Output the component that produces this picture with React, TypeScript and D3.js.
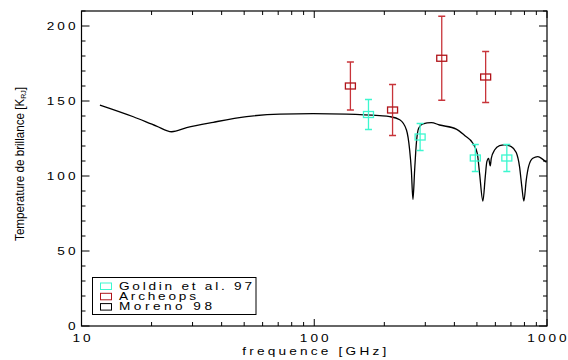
import React from 'react';
import * as d3 from 'd3';

// Moreno 98 model curve (GHz, K)
const modelFreq = [12.0, 16.7, 21.0, 24.4, 28.3, 36.8, 51.2, 71.1, 98.8, 137.5, 191, 211, 233, 249, 257, 261.3, 265.5, 270, 274.6, 280.9, 293, 318.5, 345.6, 407.6, 442.6, 480.2, 501.7, 513.2, 530.3, 543, 551.6, 561, 570.5, 576.2, 595.3, 625.5, 657, 702, 737.6, 762.1, 779.6, 795.3, 814.4, 833.2, 869, 913, 959.4, 995];
const modelTb = [147.3, 139.5, 133.3, 129.5, 132.2, 135.8, 139.6, 141.3, 141.6, 141.3, 140.2, 139.6, 137.5, 130.7, 117.3, 104, 84.4, 104, 121.8, 131.8, 134.7, 135.6, 134, 131.3, 127, 121.8, 115.1, 101.8, 83.3, 99.6, 109.6, 111.8, 106.7, 111.8, 117.3, 120.2, 120.7, 119.6, 115.6, 106.2, 92.9, 83.3, 97.3, 106.2, 111.8, 112.9, 111.1, 109.1];

// Archeops
const archFreq = [143, 217, 353, 545];
const archTb = [160, 144, 178.5, 166];
const archErr = [16, 17, 28, 17];

// Goldin et al. 97
const goldFreq = [171, 285, 492, 672];
const goldTb = [141, 126, 112, 112];
const goldErr = [10, 9, 9, 9];

const xTickValues = [10, 100, 1000];
const xTickLabels = ['10', '100', '1000'];
const yTickValues = [0, 50, 100, 150, 200];
const yTickLabels = ['0', '50', '100', '150', '200'];
const legendLabels = ['Goldin et al. 97', 'Archeops', 'Moreno 98'];

const W = 568;
const H = 360;
const L = 81.5, R = 547, T = 11, B = 326;
const FONT = '"Liberation Sans", Arial, Helvetica, sans-serif';
const CYAN = '#3cf7cf';
const RED_SQ = '#b0141a';
const RED_ERR = '#c8343a';

const x = d3.scaleLog().domain([10, 1000]).range([L, R]);
const y = d3.scaleLinear().domain([0, 210]).range([B, T]);

const SX = 1.3;

function SText(props: { x: number; y: number; size: number; anchor: string; children: any; width?: number; fill?: string }) {
  const n = String(props.children).length;
  const extra: any = {};
  if (props.width && n > 1) {
    extra.textLength = props.width / SX;
    extra.lengthAdjust = 'spacing';
  }
  return (
    <text
      transform={`translate(${props.x},${props.y}) scale(${SX},1)`}
      textAnchor={props.anchor as any}
      fontSize={props.size}
      fontFamily={FONT}
      fill={props.fill || '#000'}
      {...extra}
    >
      {props.children}
    </text>
  );
}

// approximate rendered width per character for the IDL-like stretched font
const charW = (s: string) => (s.length <= 1 ? undefined : s.length * 10.6 - 3);

export default function App() {
  const modelData = modelFreq.map((f, i) => [f, modelTb[i]] as [number, number]);
  const line = d3
    .line<[number, number]>()
    .x((d) => x(d[0]))
    .y((d) => y(d[1]))
    .curve(d3.curveMonotoneX);

  const xMinor: number[] = [];
  [10, 100].forEach((dec) => {
    for (let k = 2; k <= 9; k++) xMinor.push(dec * k);
  });
  const yMinor = d3.range(0, 211, 10).filter((v) => v % 50 !== 0);

  const errSeries = [
    { f: goldFreq, v: goldTb, e: goldErr, sq: CYAN, err: CYAN },
    { f: archFreq, v: archTb, e: archErr, sq: RED_SQ, err: RED_ERR },
  ];

  const legendColors = [CYAN, RED_SQ, '#000'];
  const legendWidths = [133, 77, 93];

  return (
    <svg width={W} height={H} style={{ position: 'fixed', left: 0, top: 0, background: '#fff' }}>
      <defs>
        <clipPath id="plotclip">
          <rect x={L} y={T} width={R - L} height={B - T} />
        </clipPath>
      </defs>
      <rect x={0} y={0} width={W} height={H} fill="#fff" />

      {/* data */}
      <g clipPath="url(#plotclip)">
        <path d={line(modelData) || ''} fill="none" stroke="#000" strokeWidth={1.3} />
        {errSeries.map((s, si) => (
          <g key={si}>
            {s.f.map((f, i) => {
              const cx = x(f);
              const cy = y(s.v[i]);
              const yt = y(s.v[i] + s.e[i]);
              const yb = y(s.v[i] - s.e[i]);
              return (
                <g key={i}>
                  <line x1={cx} x2={cx} y1={yt} y2={yb} stroke={s.err} strokeWidth={1.3} />
                  <line x1={cx - 3.5} x2={cx + 3.5} y1={yt} y2={yt} stroke={s.err} strokeWidth={1.3} />
                  <line x1={cx - 3.5} x2={cx + 3.5} y1={yb} y2={yb} stroke={s.err} strokeWidth={1.3} />
                  <rect x={cx - 5} y={cy - 3} width={10} height={6} fill="none" stroke={s.sq} strokeWidth={1.3} />
                </g>
              );
            })}
          </g>
        ))}
      </g>

      {/* frame */}
      <rect x={L} y={T} width={R - L} height={B - T} fill="none" stroke="#000" strokeWidth={1.2} />

      {/* x ticks */}
      {xTickValues.map((v) => (
        <g key={'xM' + v}>
          <line x1={x(v)} x2={x(v)} y1={B} y2={B - 7} stroke="#000" />
          <line x1={x(v)} x2={x(v)} y1={T} y2={T + 7} stroke="#000" />
        </g>
      ))}
      {xMinor.map((v) => (
        <g key={'xm' + v}>
          <line x1={x(v)} x2={x(v)} y1={B} y2={B - 4} stroke="#000" />
          <line x1={x(v)} x2={x(v)} y1={T} y2={T + 4} stroke="#000" />
        </g>
      ))}
      {/* y ticks */}
      {yTickValues.map((v) => (
        <g key={'yM' + v}>
          <line x1={L} x2={L + 8} y1={y(v)} y2={y(v)} stroke="#000" />
          <line x1={R} x2={R - 8} y1={y(v)} y2={y(v)} stroke="#000" />
        </g>
      ))}
      {yMinor.map((v) => (
        <g key={'ym' + v}>
          <line x1={L} x2={L + 4} y1={y(v)} y2={y(v)} stroke="#000" />
          <line x1={R} x2={R - 4} y1={y(v)} y2={y(v)} stroke="#000" />
        </g>
      ))}

      {/* tick labels */}
      {xTickValues.map((v, i) => (
        <SText key={'xl' + v} x={x(v)} y={342} size={10.5} anchor="middle" width={charW(xTickLabels[i])}>
          {xTickLabels[i]}
        </SText>
      ))}
      {yTickValues.map((v, i) => (
        <SText key={'yl' + v} x={75.5} y={y(v) + 4} size={10.5} anchor="end" width={charW(yTickLabels[i])}>
          {yTickLabels[i]}
        </SText>
      ))}

      {/* axis titles */}
      <SText x={(L + R) / 2} y={354.5} size={10.5} anchor="middle" width={144}>
        frequence [GHz]
      </SText>
      <text
        transform={`translate(24,164) rotate(-90) scale(0.93,1)`}
        textAnchor="middle"
        fontSize={12.5}
        fontFamily={FONT}
        fill="#000"
      >
        Temperature de brillance [K
        <tspan fontSize={7.5} dy={2}>RJ</tspan>
        <tspan dy={-2}>]</tspan>
      </text>

      {/* legend */}
      <rect x={92.5} y={277.5} width={163.5} height={37} fill="#fff" stroke="#000" strokeWidth={1} />
      {legendLabels.map((lab, i) => {
        const base = 289.5 + i * 10.3;
        return (
          <g key={lab}>
            <rect x={100.5} y={base - 6.5} width={11} height={6.5} fill="none" stroke={legendColors[i]} strokeWidth={1} />
            <SText x={119} y={base} size={10.5} anchor="start" width={legendWidths[i]}>
              {lab}
            </SText>
          </g>
        );
      })}
    </svg>
  );
}
